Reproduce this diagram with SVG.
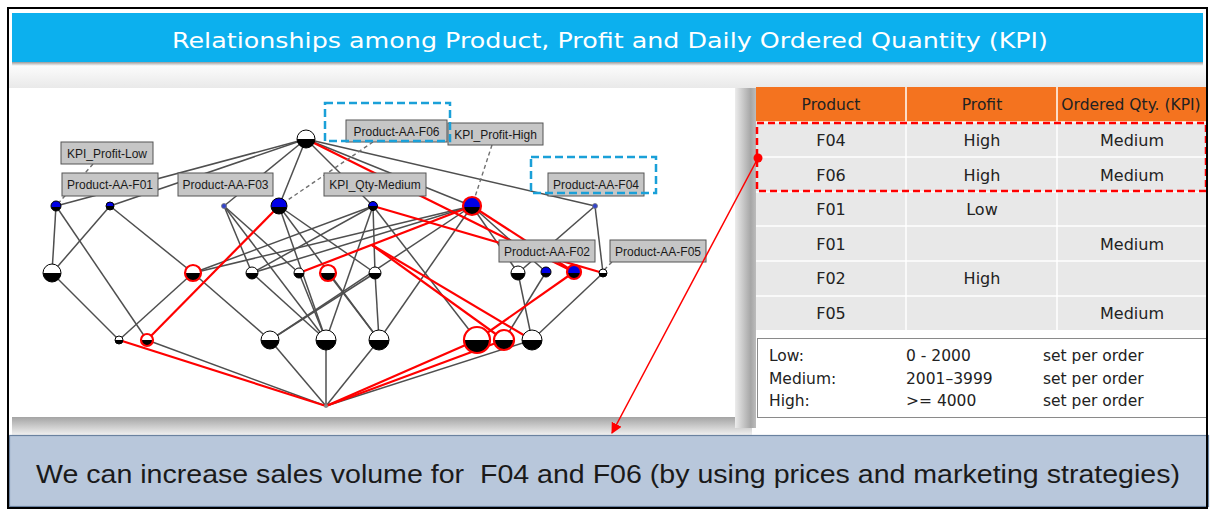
<svg xmlns="http://www.w3.org/2000/svg" width="1212" height="510" viewBox="0 0 1212 510">
<defs>
<style>
.e{stroke:#4f4f4f;stroke-width:1.5;fill:none}
.r{stroke:#ff0000;stroke-width:2.2;fill:none}
.d{stroke:#707070;stroke-width:1.4;stroke-dasharray:4 3;fill:none}
.n{stroke:#000;stroke-width:1}
.wb{fill:url(#gwb)}
.bb{fill:url(#gbb)}
.hl{stroke:#ff0000;stroke-width:2.2}
.tiny{fill:#3344cc;stroke:#777;stroke-width:0.8}
.lb rect{fill:#c6c6c6;stroke:#555;stroke-width:1}
.lb text{font-family:"Liberation Sans",Arial,sans-serif;font-size:12px;fill:#1a1a1a;text-anchor:middle}
.bx{fill:none;stroke:#1aa0d8;stroke-width:2.5;stroke-dasharray:8 4}
.th{font-family:"DejaVu Sans",sans-serif;font-size:15.5px;fill:#222;text-anchor:middle}
.td{font-family:"DejaVu Sans",sans-serif;font-size:16px;fill:#222;text-anchor:middle}
.lg{font-family:"DejaVu Sans",sans-serif;font-size:15.5px;fill:#222}
</style>
<linearGradient id="gwb" x1="0" y1="0" x2="0" y2="1"><stop offset="0.5" stop-color="#fff"/><stop offset="0.5" stop-color="#000"/></linearGradient>
<linearGradient id="gbb" x1="0" y1="0" x2="0" y2="1"><stop offset="0.55" stop-color="#0000e6"/><stop offset="0.55" stop-color="#000"/></linearGradient>
<linearGradient id="gTop" x1="0" y1="0" x2="0" y2="1"><stop offset="0" stop-color="#ffffff"/><stop offset="1" stop-color="#e9e9e9"/></linearGradient>
<linearGradient id="gHdr" x1="0" y1="0" x2="0" y2="1"><stop offset="0" stop-color="#9a9a9a"/><stop offset="1" stop-color="#ffffff"/></linearGradient>
<linearGradient id="gDown" x1="0" y1="0" x2="0" y2="1"><stop offset="0" stop-color="#a4a4a4"/><stop offset="1" stop-color="#f0f0f0"/></linearGradient>
<linearGradient id="gSide" x1="0" y1="0" x2="1" y2="0"><stop offset="0" stop-color="#ececec"/><stop offset="0.75" stop-color="#a6a6a6"/><stop offset="1" stop-color="#bcbcbc"/></linearGradient>
<marker id="arr" viewBox="0 0 10 10" refX="9" refY="5" markerWidth="11" markerHeight="11" markerUnits="userSpaceOnUse" orient="auto"><path d="M0,0 L10,5 L0,10 z" fill="#ff0000"/></marker>
</defs>

<rect x="0" y="0" width="1212" height="510" fill="#fff"/>
<rect x="9" y="62" width="1198" height="26" fill="url(#gTop)"/>
<rect x="12" y="62" width="1191" height="4" fill="url(#gHdr)"/>

<g id="header">
<rect x="12" y="13" width="1191" height="49" fill="#0cb0ee"/>
<text x="610" y="48" font-family="DejaVu Sans, sans-serif" font-size="22" fill="#fff" text-anchor="middle" textLength="876" lengthAdjust="spacingAndGlyphs">Relationships among Product, Profit and Daily Ordered Quantity (KPI)</text>
</g>

<rect x="10" y="88" width="725" height="329" fill="#fff"/>
<rect x="12" y="417" width="740" height="18" fill="url(#gDown)"/>
<rect x="735" y="88" width="21" height="340" fill="url(#gSide)"/>

<g id="connectors">
<g class="e">
<line x1="306" y1="139" x2="56" y2="206"/>
<line x1="306" y1="139" x2="110" y2="206"/>
<line x1="306" y1="139" x2="224" y2="206"/>
<line x1="306" y1="139" x2="279" y2="206"/>
<line x1="306" y1="139" x2="373" y2="206"/>
<line x1="306" y1="139" x2="472" y2="206"/>
<line x1="306" y1="139" x2="595" y2="206"/>
<line x1="56" y1="206" x2="52" y2="273"/>
<line x1="56" y1="206" x2="147" y2="340"/>
<line x1="110" y1="206" x2="52" y2="273"/>
<line x1="110" y1="206" x2="193" y2="273"/>
<line x1="224" y1="206" x2="252" y2="273"/>
<line x1="224" y1="206" x2="299" y2="273"/>
<line x1="224" y1="206" x2="326" y2="340"/>
<line x1="279" y1="206" x2="375" y2="273"/>
<line x1="279" y1="206" x2="326" y2="340"/>
<line x1="279" y1="206" x2="379" y2="340"/>
<line x1="373" y1="206" x2="193" y2="273"/>
<line x1="373" y1="206" x2="252" y2="273"/>
<line x1="373" y1="206" x2="375" y2="273"/>
<line x1="373" y1="206" x2="477" y2="340"/>
<line x1="373" y1="206" x2="326" y2="340"/>
<line x1="472" y1="206" x2="193" y2="273"/>
<line x1="472" y1="206" x2="252" y2="273"/>
<line x1="472" y1="206" x2="270" y2="340"/>
<line x1="472" y1="206" x2="379" y2="340"/>
<line x1="472" y1="206" x2="518" y2="273"/>
<line x1="472" y1="206" x2="546" y2="272"/>
<line x1="595" y1="206" x2="518" y2="273"/>
<line x1="595" y1="206" x2="603" y2="273"/>
<line x1="52" y1="273" x2="119" y2="340"/>
<line x1="193" y1="273" x2="119" y2="340"/>
<line x1="193" y1="273" x2="270" y2="340"/>
<line x1="252" y1="273" x2="326" y2="340"/>
<line x1="299" y1="273" x2="326" y2="340"/>
<line x1="328" y1="273" x2="379" y2="340"/>
<line x1="375" y1="273" x2="270" y2="340"/>
<line x1="375" y1="273" x2="379" y2="340"/>
<line x1="518" y1="273" x2="532" y2="340"/>
<line x1="546" y1="272" x2="504" y2="340"/>
<line x1="603" y1="273" x2="532" y2="340"/>
<line x1="147" y1="340" x2="326" y2="406"/>
<line x1="270" y1="340" x2="326" y2="406"/>
<line x1="326" y1="340" x2="326" y2="406"/>
<line x1="379" y1="340" x2="326" y2="406"/>
<line x1="532" y1="340" x2="326" y2="406"/>
</g>
<g class="r">
<line x1="306" y1="139" x2="574" y2="272"/>
<line x1="279" y1="206" x2="147" y2="340"/>
<line x1="299" y1="273" x2="472" y2="206"/>
<line x1="472" y1="206" x2="574" y2="272"/>
<line x1="373" y1="206" x2="603" y2="273"/>
<line x1="574" y1="272" x2="477" y2="340"/>
<line x1="372" y1="245" x2="504" y2="340"/>
<line x1="372" y1="245" x2="532" y2="340"/>
<line x1="119" y1="340" x2="326" y2="406"/>
<line x1="477" y1="340" x2="326" y2="406"/>
<line x1="504" y1="340" x2="326" y2="406"/>
</g>
<g class="d">
<line x1="93" y1="164" x2="56" y2="206"/>
<line x1="373" y1="142" x2="279" y2="206"/>
<line x1="492" y1="145" x2="472" y2="206"/>
<line x1="612" y1="262" x2="604" y2="270"/>
</g>
</g>

<g id="n-T"><circle class="n wb" cx="306" cy="139" r="9"/></g>
<g id="n-B1"><circle class="n bb" cx="56" cy="206" r="5"/></g>
<g id="n-B2"><circle class="n bb" cx="110" cy="206" r="4"/></g>
<g id="n-B3"><circle class="tiny" cx="224" cy="206" r="2.5"/></g>
<g id="n-B4"><circle class="n bb" cx="279" cy="206" r="8"/></g>
<g id="n-B5"><circle class="n bb" cx="373" cy="206" r="4.5"/></g>
<g id="n-B6"><circle class="bb hl" cx="472" cy="206" r="9"/></g>
<g id="n-B7"><circle class="tiny" cx="595" cy="206" r="2.5"/></g>
<g id="n-C1"><circle class="n wb" cx="52" cy="273" r="9"/></g>
<g id="n-C2"><circle class="wb hl" cx="193" cy="273" r="8"/></g>
<g id="n-C3"><circle class="n wb" cx="252" cy="273" r="6"/></g>
<g id="n-C4"><circle class="n wb" cx="299" cy="273" r="5"/></g>
<g id="n-C5"><circle class="wb hl" cx="328" cy="273" r="8"/></g>
<g id="n-C6"><circle class="n wb" cx="375" cy="273" r="6"/></g>
<g id="n-C7"><circle class="n wb" cx="518" cy="273" r="7"/></g>
<g id="n-C8"><circle class="n bb" cx="546" cy="272" r="5"/></g>
<g id="n-C9"><circle class="bb hl" cx="574" cy="272" r="7"/></g>
<g id="n-C10"><circle class="n wb" cx="603" cy="273" r="4"/></g>
<g id="n-D1"><circle class="n wb" cx="119" cy="340" r="4"/></g>
<g id="n-D2"><circle class="wb hl" cx="147" cy="340" r="6"/></g>
<g id="n-D3"><circle class="n wb" cx="270" cy="340" r="9"/></g>
<g id="n-D4"><circle class="n wb" cx="326" cy="340" r="10"/></g>
<g id="n-D5"><circle class="n wb" cx="379" cy="340" r="10"/></g>
<g id="n-D6"><circle class="wb hl" cx="477" cy="340" r="13"/></g>
<g id="n-D7"><circle class="wb hl" cx="504" cy="340" r="10"/></g>
<g id="n-D8"><circle class="n wb" cx="532" cy="340" r="10"/></g>
<g id="n-E"><circle cx="326" cy="406" r="2" fill="#888"/></g>

<g id="l-profit-low" class="lb"><rect x="61" y="142" width="92" height="22"/><text x="107" y="157.5">KPI_Profit-Low</text></g>
<g id="l-f01" class="lb"><rect x="62" y="173" width="96" height="23"/><text x="110" y="189">Product-AA-F01</text></g>
<g id="l-f03" class="lb"><rect x="178" y="173" width="95" height="23"/><text x="225.5" y="189">Product-AA-F03</text></g>
<g id="l-qty-medium" class="lb"><rect x="324" y="173" width="102" height="23"/><text x="375" y="189">KPI_Qty-Medium</text></g>
<g id="l-f06" class="lb"><rect x="346" y="120" width="101" height="22"/><text x="396.5" y="135.5">Product-AA-F06</text></g>
<g id="l-profit-high" class="lb"><rect x="448" y="123" width="95" height="22"/><text x="495.5" y="138.5">KPI_Profit-High</text></g>
<g id="l-f04" class="lb"><rect x="548" y="173" width="96" height="23"/><text x="596" y="189">Product-AA-F04</text></g>
<g id="l-f02" class="lb"><rect x="499" y="240" width="96" height="22"/><text x="547" y="255.5">Product-AA-F02</text></g>
<g id="l-f05" class="lb"><rect x="610" y="240" width="96" height="22"/><text x="658" y="255.5">Product-AA-F05</text></g>

<g id="highlight-boxes">
<rect class="bx" x="325" y="103" width="125" height="38"/>
<rect class="bx" x="531" y="157" width="125" height="36"/>
</g>

<g id="table">
<rect x="756" y="87" width="451" height="35" fill="#f4731f"/>
<rect x="756" y="122" width="451" height="208" fill="#e8e8e8"/>
<g stroke="#fff" stroke-width="1.5">
<line x1="906" y1="87" x2="906" y2="330"/>
<line x1="1057" y1="87" x2="1057" y2="330"/>
<line x1="756" y1="122" x2="1207" y2="122"/>
<line x1="756" y1="157" x2="1207" y2="157"/>
<line x1="756" y1="192" x2="1207" y2="192"/>
<line x1="756" y1="226" x2="1207" y2="226"/>
<line x1="756" y1="261" x2="1207" y2="261"/>
<line x1="756" y1="296" x2="1207" y2="296"/>
</g>
<text class="th" x="831" y="110">Product</text>
<text class="th" x="982" y="110">Profit</text>
<text class="th" x="1131" y="110">Ordered Qty. (KPI)</text>
<text class="td" x="831" y="146">F04</text><text class="td" x="982" y="146">High</text><text class="td" x="1132" y="146">Medium</text>
<text class="td" x="831" y="181">F06</text><text class="td" x="982" y="181">High</text><text class="td" x="1132" y="181">Medium</text>
<text class="td" x="831" y="215">F01</text><text class="td" x="982" y="215">Low</text>
<text class="td" x="831" y="250">F01</text><text class="td" x="1132" y="250">Medium</text>
<text class="td" x="831" y="284">F02</text><text class="td" x="982" y="284">High</text>
<text class="td" x="831" y="319">F05</text><text class="td" x="1132" y="319">Medium</text>
</g>

<g id="legend">
<rect x="757.5" y="338.5" width="449" height="79" fill="#fff" stroke="#8a8a8a" stroke-width="1"/>
<text class="lg" x="769" y="361">Low:</text><text class="lg" x="906" y="361">0 - 2000</text><text class="lg" x="1043" y="361">set per order</text>
<text class="lg" x="769" y="384">Medium:</text><text class="lg" x="906" y="384">2001–3999</text><text class="lg" x="1043" y="384">set per order</text>
<text class="lg" x="769" y="406">High:</text><text class="lg" x="906" y="406">&gt;= 4000</text><text class="lg" x="1043" y="406">set per order</text>
</g>

<g id="selection">
<rect x="757" y="123" width="449" height="68" fill="none" stroke="#ff0000" stroke-width="2.5" stroke-dasharray="7 4"/>
</g>

<g id="conclusion">
<rect x="9.5" y="435.5" width="1199" height="71" fill="#b8c7db" stroke="#6a82a0" stroke-width="1.2"/>
<text x="36" y="483" font-family="Liberation Sans, Arial, sans-serif" font-size="26" fill="#1a1a1a" textLength="1144" lengthAdjust="spacingAndGlyphs">We can increase sales volume for&#160; F04 and F06 (by using prices and marketing strategies)</text>
</g>

<g id="pointer">
<line x1="758" y1="158" x2="612" y2="433" stroke="#ff0000" stroke-width="1.5" marker-end="url(#arr)"/>
<circle cx="758" cy="158" r="4.5" fill="#ff0000"/>
</g>

<rect x="8" y="8" width="1199" height="500" fill="none" stroke="#000" stroke-width="2"/>
</svg>
